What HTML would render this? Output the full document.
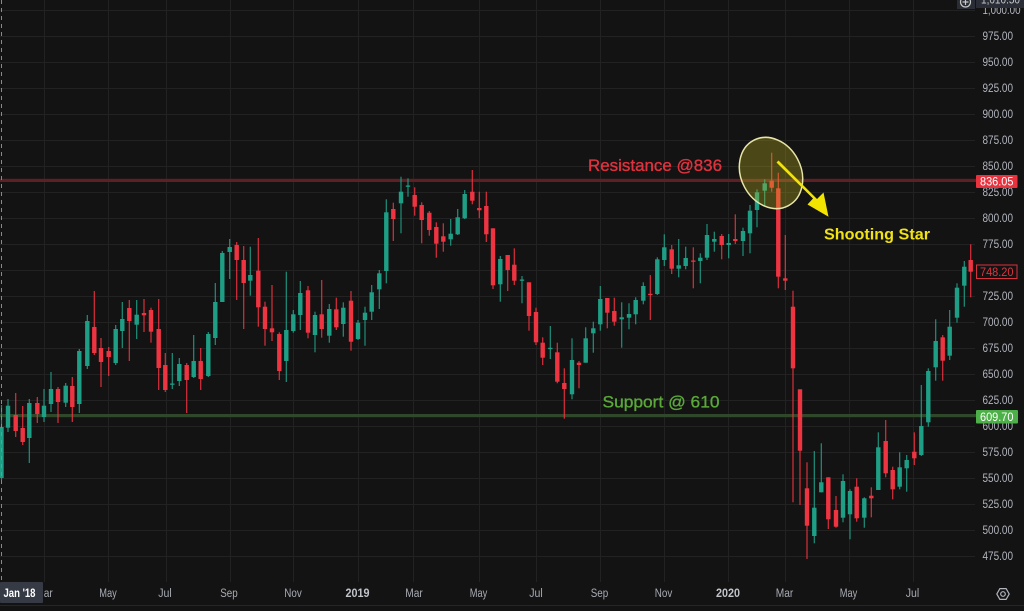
<!DOCTYPE html>
<html><head><meta charset="utf-8"><style>
html,body{margin:0;padding:0;background:#131313;}
body{width:1024px;height:611px;overflow:hidden;}
svg{display:block;}
text{font-family:"Liberation Sans",sans-serif;}
</style></head><body>
<svg id="c" width="1024" height="611" viewBox="0 0 1024 611" xmlns="http://www.w3.org/2000/svg">
<rect x="0" y="0" width="1024" height="611" fill="#131313"/>
<g id="grid"></g>
<rect x="0" y="178.8" width="976" height="3.2" fill="#5e1f25"/>
<rect x="0" y="414" width="976" height="3.2" fill="#30482a"/>
<g id="candles"></g>
<line x1="1.5" y1="0" x2="1.5" y2="582" stroke="#8a8a8a" stroke-width="1" stroke-dasharray="4,4"/>
<ellipse cx="771" cy="173" rx="30" ry="37" transform="rotate(-28 771 173)" fill="rgba(190,180,30,0.33)" stroke="#e6e4a6" stroke-width="1.5"/>
<polygon points="776.5,162.5 780.5,166.5 813,198.5 807.5,204.5 828.5,216.7 823.5,192.5 817,199 778.5,160.5" fill="#f2e400"/>
<text x="588" y="171" font-size="17" fill="#e0323e" stroke="#e0323e" stroke-width="0.35" textLength="134" lengthAdjust="spacingAndGlyphs">Resistance @836</text>
<text x="602.5" y="407.5" font-size="17" fill="#5aa83a" stroke="#5aa83a" stroke-width="0.35" textLength="117" lengthAdjust="spacingAndGlyphs">Support @ 610</text>
<text x="824" y="239.5" font-size="16" font-weight="bold" fill="#f0e214" textLength="106" lengthAdjust="spacingAndGlyphs">Shooting Star</text>
<g id="axis"></g>
</svg>
<script>
var NS="http://www.w3.org/2000/svg";
function el(parent,tag,attrs,txt){var e=document.createElementNS(NS,tag);for(var k in attrs)e.setAttribute(k,attrs[k]);if(txt!==undefined)e.textContent=txt;parent.appendChild(e);return e;}
var grid=document.getElementById('grid'),axis=document.getElementById('axis'),cg=document.getElementById('candles');
function py(p){return 556-(p-475)*1.04;}
for(var p=475;p<=1000;p+=25){var y=Math.round(py(p))+0.5;el(grid,'line',{x1:0,y1:y,x2:975,y2:y,stroke:'#222222','stroke-width':1});}
var vx=[44,108,166,230,293,358,413,479,536,600,664,728,785,849,913];
vx.forEach(function(x){el(grid,'line',{x1:x+0.5,y1:0,x2:x+0.5,y2:582,stroke:'#222222','stroke-width':1});});
var D=[
[1.5,'g',427,478,405,480],
[8,'g',405.7,427.7,399,432],[15.7,'r',415,431,393,437],[22.7,'r',428,442,406,445],[29.3,'g',403,438,399,463],
[37.3,'r',403,414,397,423],[44,'g',405.7,417,389,422],[51,'g',389,404,372,412],[58,'r',389,402,387,423],
[65.7,'g',385.7,402.7,383,407],[72.3,'r',386,407,377,422],[79.3,'g',351,404,349,413],[87.3,'g',321,366,315,369],
[94.3,'r',327,353,291,355],[101,'r',348,362,338,387],[108.7,'r',351,357,347,376],[115.7,'g',329,363,325,365],
[122.3,'g',319,331,302,348],[129.3,'r',308,321,300,361],[136.7,'g',314.7,324.7,300,339],[144,'r',313,315.3,299,332],
[151,'r',310,331.7,307.7,342.7],[158.7,'r',329,368,299,390],[165.3,'r',365,390,353,392],[172.3,'g',383.5,384.5,353,389],
[179.3,'g',364,381,358,386],[186.7,'r',365,380,363,413],[193.7,'g',361,377,335,378],[200.7,'r',361,379,348,390],
[208.3,'g',334,376,332,377],[215.3,'g',302,338,283,345],[222.3,'g',253,302,251,302],[229.7,'g',247,252,239,279],
[236.7,'r',245,260,242,300],[243.7,'r',260,283,246,329],[250.3,'g',275,280.7,246.7,295.7],[258.3,'r',270.7,307.3,238,326.7],
[265,'r',306.7,329,301.7,345.7],[272,'r',328.3,332.3,285,341],[279.3,'r',334,371,332.3,380],[286.3,'g',330,361,271.7,382],
[293.3,'g',314.3,331,310,332.7],[300.3,'g',293,315,281,330],[308,'r',290.3,332.7,286,338.3],[315,'g',315,335,311.7,352.3],
[321.7,'r',314.3,329,280,337.7],[329.3,'g',309,335.7,304,342.7],[336.3,'r',309.3,327.3,297.7,330],[343.3,'g',307.7,324,302.3,336.7],
[351,'r',300.7,341.7,291,350.7],[358,'g',322.7,339,320,340],[365,'g',312.7,320,306.7,345.7],[371.7,'g',292.3,311.7,285,320],
[379.3,'g',273.3,289.3,270,309],[386.3,'g',212.3,271,199.3,283.3],[393.3,'r',209,219,202.7,241],[401,'g',191.7,203.3,176.7,233.3],
[408,'g',185.5,186.8,178.3,196.7],[414.7,'r',195,206.7,187.3,215.7],[421.7,'r',205,220,202.3,243.3],[429.3,'r',212.7,230,211,235.7],
[436.3,'r',227,243.7,222.3,257.7],[443.3,'r',236.3,241.7,223.3,251.7],[450.7,'g',233.7,239.3,219,245.7],[457.7,'g',217.3,234.3,209,235],
[464.7,'g',194,218.3,190,219],[472.3,'r',191.7,200.7,170,204.3],[479.3,'r',208,210.3,191.7,218.3],[486.3,'r',206,234.3,191.7,242],
[493,'r',228.3,285.3,228.3,289],[500.3,'g',259,284.3,256,301.7],[507.7,'r',255,270,255,291],[514.3,'r',264.7,280.7,248.3,285],
[522,'g',279.5,280.8,276,303.3],[529,'r',282.3,316,282.3,330.7],[536,'r',312,342.3,307.7,345],[542.7,'r',342.7,357.7,337.3,365],
[550.3,'g',347.8,349,326,359],[557.3,'r',352.3,381.7,342.7,383.3],[564.3,'r',383,389,368.3,418.7],[572,'g',360,394.3,338.3,399.3],
[579,'r',362.7,365,361,388.3],[585.7,'g',338.3,362.7,327.3,362.7],[593.3,'g',328.3,333.3,321.7,352.7],[600.3,'g',299,324.3,286,330.7],
[607.3,'r',298,312.7,298,328.3],[614.3,'r',311,321.7,297.7,325.7],[621.7,'g',317.3,319.3,302.3,347.7],[629,'g',314,317.7,303.3,329.3],
[635.7,'g',300,314.3,297.3,324.3],[643.3,'g',286,300.7,282.3,304.3],[650.3,'r',293.8,295,275,320],[657.3,'g',259.3,294,257.3,295],
[664.3,'g',247.3,260,234.3,266],[671.7,'r',249.3,268.7,245,274],[678.7,'g',265.3,268.7,239,277.3],[685.7,'g',258,266,246.7,269.3],
[693.3,'r',260.5,261.7,247.3,288.3],[700.3,'g',257.7,261,253.3,283.3],[707,'g',235,257.7,224,260],[714.3,'g',239,241.7,231.7,251.7],
[721.7,'r',236,245,234,259.3],[728.7,'g',243,245,234,258.3],[735.3,'r',239,241,214.3,244],[743,'g',231,241,227.7,256],
[750,'g',210.7,233.3,205,253.3],[757,'g',192.3,210,189.3,227.3],[764.7,'g',183.3,190.7,179.3,206],[771.7,'r',180.7,187.7,152.7,191.7],
[778.3,'r',188.3,276.7,172.7,288.3],[785.3,'r',278.3,280.7,235,290],[793,'r',306.7,368.3,290.7,502.3],[800,'r',389.3,450.7,389.3,505],
[807,'r',488.3,525.7,462.3,559],[814.3,'g',507.7,536,451,543.3],[821.3,'g',482.3,492.3,443.3,492.3],[828.3,'r',477.3,519.3,477.3,529],
[836,'r',510,526.7,496,527.7],[843,'g',481,517.7,474.3,522.3],[850,'g',491,514.3,489.3,539.3],[856.7,'r',486.7,518.3,478.3,521.7],
[864.3,'g',498.3,517.7,497.3,527.7],[871.3,'r',495.7,498.3,487.3,517.3],[878.3,'g',447.3,490,432.3,490],[885.7,'r',441,473.3,420,477.3],
[892.7,'r',470,489.3,466.7,499.3],[899.7,'g',467.3,486.7,452.3,489.3],[906.7,'g',460,468.3,455,491.7],[914.3,'r',451.7,458.3,432.3,465],
[921.3,'g',426,455,385,456],[928.3,'g',371,422.3,368.3,426.7],[935.7,'g',341,367.3,319.3,380.7],[942.7,'r',337.3,360.7,335,380.7],
[949.7,'g',326.7,355.7,310,360],[957,'g',287.7,317.7,283.3,322.7],[964.3,'g',266.7,285.7,261,306.7],[970.7,'r',260,271.7,244.3,297.3]
];
var GC='#1f9e86',RC='#ee3341';
D.forEach(function(d){
  var c=d[1]=='g'?GC:RC,x=d[0];
  el(cg,'rect',{x:x-0.6,y:d[4],width:1.2,height:d[5]-d[4],fill:c,opacity:0.9});
  var h=Math.max(d[3]-d[2],1.3);
  el(cg,'rect',{x:x-2.2,y:d[2],width:4.4,height:h,fill:c});
});
for(var p=475;p<=1000;p+=25){
  var y=py(p);var s=p>=1000?'1,000.00':p+'.00';
  el(axis,'text',{x:982.5,y:y+4.2,'font-size':11.5,fill:'#b2b5be',textLength:p>=1000?38:30.5,lengthAdjust:'spacingAndGlyphs'},s);
}
el(axis,'rect',{x:976,y:175,width:41.5,height:13,fill:'#e8333f',rx:1});
el(axis,'text',{x:980,y:185.6,'font-size':11.5,fill:'#ffffff',textLength:33.5,lengthAdjust:'spacingAndGlyphs'},'836.05');
el(axis,'rect',{x:976,y:410,width:42,height:13.5,fill:'#4caf47',rx:1});
el(axis,'text',{x:980,y:420.8,'font-size':11.5,fill:'#ffffff',textLength:33.5,lengthAdjust:'spacingAndGlyphs'},'609.70');
el(axis,'rect',{x:976.5,y:265,width:40.5,height:13.5,fill:'#131313',stroke:'#d8323c','stroke-width':1});
el(axis,'text',{x:980,y:275.8,'font-size':11.5,fill:'#e0343e',textLength:33.5,lengthAdjust:'spacingAndGlyphs'},'748.20');
el(axis,'rect',{x:957,y:-2,width:18,height:11,fill:'#2a2d35'});
el(axis,'circle',{cx:965.5,cy:2,r:5,fill:'none',stroke:'#c8c8c8','stroke-width':1.2});
el(axis,'line',{x1:962.5,y1:2,x2:968.5,y2:2,stroke:'#c8c8c8','stroke-width':1.2});
el(axis,'line',{x1:965.5,y1:-1,x2:965.5,y2:5,stroke:'#c8c8c8','stroke-width':1.2});
el(axis,'rect',{x:976,y:-2,width:48,height:10,fill:'#2a2d35'});
el(axis,'text',{x:981,y:3.5,'font-size':11.5,fill:'#c8cad0',textLength:39,lengthAdjust:'spacingAndGlyphs'},'1,010.50');
el(axis,'line',{x1:0,y1:605.5,x2:1024,y2:605.5,stroke:'#262626','stroke-width':1});
var XL=[[44,'Mar',0],[108,'May',0],[165,'Jul',0],[229,'Sep',0],[293,'Nov',0],[357.5,'2019',1],[414,'Mar',0],[478.5,'May',0],
[536,'Jul',0],[599.5,'Sep',0],[663.5,'Nov',0],[728,'2020',1],[784.5,'Mar',0],[848.5,'May',0],[912.5,'Jul',0]];
XL.forEach(function(l){
  var w=l[1].length==4?24:(l[1]=='Jul'?13.5:17.5);
  el(axis,'text',{x:l[0],y:597,'font-size':11.5,'text-anchor':'middle',fill:l[2]?'#c2c4cb':'#a8abb4','font-weight':l[2]?'bold':'normal',textLength:w,lengthAdjust:'spacingAndGlyphs'},l[1]);
});
el(axis,'rect',{x:0,y:582,width:43,height:21,fill:'#363a45',rx:1});
el(axis,'text',{x:3.5,y:597,'font-size':11.5,'font-weight':'bold',fill:'#ffffff',textLength:32,lengthAdjust:'spacingAndGlyphs'},"Jan '18");
el(axis,'polygon',{points:'996.8,594 999.9,588.6 1006.1,588.6 1009.2,594 1006.1,599.4 999.9,599.4',fill:'none',stroke:'#b2b5be','stroke-width':1.2});
el(axis,'circle',{cx:1003,cy:594,r:2.3,fill:'none',stroke:'#b2b5be','stroke-width':1.2});
</script>
</body></html>
